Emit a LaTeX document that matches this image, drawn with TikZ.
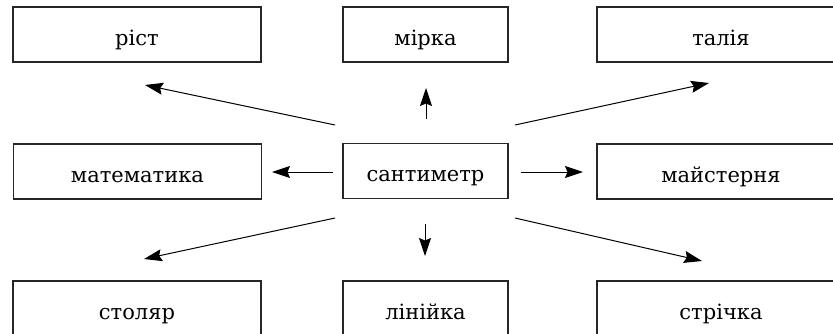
\documentclass[tikz,border=0pt]{standalone}
\usepackage{fontspec}
\setmainfont{DejaVu Serif}
\usetikzlibrary{arrows.meta}
\begin{document}
\begin{tikzpicture}[x=1pt,y=-1pt,
  word/.style={draw=black!85,line width=1.1pt,minimum height=55pt,inner sep=0pt,
    text height=26pt,text depth=4.5pt,font=\fontsize{21}{24}\selectfont,text=black},
  wide/.style={word,minimum width=248pt},
  narrow/.style={word,minimum width=165pt},
  link/.style={line width=1pt,-{Stealth[length=18pt,width=12pt,inset=2.5pt]}}]
\useasboundingbox (0,0) rectangle (833,333);
\clip (0,0) rectangle (833,333);
\node[wide]   (rist)  at (137,34.5)  {ріст};
\node[narrow] (mirka) at (425.5,34.5) {мірка};
\node[wide]   (talia) at (721,34.5)  {талія};
\node[wide]   (mat)   at (137.5,171.5) {математика};
\node[narrow] (cm)    at (425.5,171) {сантиметр};
\node[wide]   (maist) at (721,171.5) {майстерня};
\node[wide]   (stol)  at (137,308.5) {столяр};
\node[narrow] (lin)   at (425.5,308.5) {лінійка};
\node[wide]   (stri)  at (721,308.5) {стрічка};
\coordinate (ul0) at (335,125);  \coordinate (ul1) at (145,85);
\coordinate (u0)  at (426,119);  \coordinate (u1)  at (426,88);
\coordinate (ur0) at (515,125);  \coordinate (ur1) at (709,83);
\coordinate (l0)  at (333,172);  \coordinate (l1)  at (272,172);
\coordinate (r0)  at (521,172);  \coordinate (r1)  at (583,172);
\coordinate (ll0) at (335,218);  \coordinate (ll1) at (144,259);
\coordinate (d0)  at (425,224);  \coordinate (d1)  at (425,256);
\coordinate (lr0) at (515,218);  \coordinate (lr1) at (702,261);
\draw[link] (ul0) -- (ul1);
\draw[link] (u0) -- (u1);
\draw[link] (ur0) -- (ur1);
\draw[link] (l0) -- (l1);
\draw[link] (r0) -- (r1);
\draw[link] (ll0) -- (ll1);
\draw[link] (d0) -- (d1);
\draw[link] (lr0) -- (lr1);
\end{tikzpicture}
\end{document}
